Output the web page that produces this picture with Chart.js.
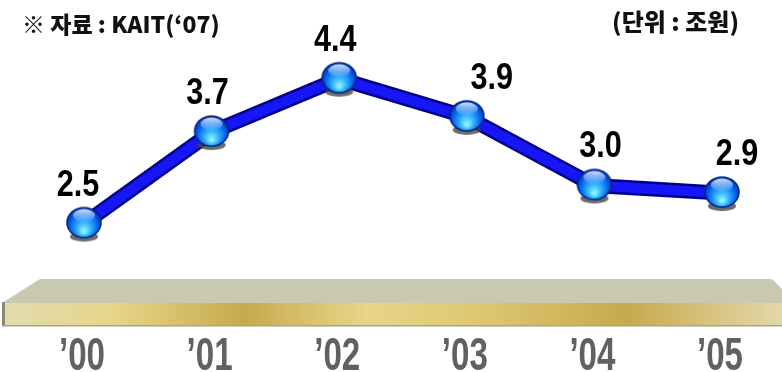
<!DOCTYPE html>
<html><head><meta charset="utf-8">
<script src="https://cdn.jsdelivr.net/npm/chart.js@4.4.0/dist/chart.umd.min.js"></script>
<style>html,body{margin:0;padding:0;background:#fff;overflow:hidden}#wrap{width:782px;height:372px;position:relative}</style>
</head><body><div id="wrap"><canvas id="c" width="782" height="372"></canvas></div>
<script>
// ---- data ----
const categories = ["’00", "’01", "’02", "’03", "’04", "’05"];
const values = [2.5, 3.7, 4.4, 3.9, 3.0, 2.9];
const valueLabels = ["2.5", "3.7", "4.4", "3.9", "3.0", "2.9"];
const sourceText = "※ 자료 : KAIT(‘07)";
const unitText = "(단위 : 조원)";

// ---- sphere marker ----
function makeSphere() {
  const c = document.createElement('canvas'); c.width = 44; c.height = 44;
  const g = c.getContext('2d');
  g.fillStyle = 'rgba(70,70,70,0.8)';
  g.beginPath(); g.ellipse(22, 35, 14, 5, 0, 0, Math.PI * 2); g.fill();
  const cx = 22, cy = 21;
  const rg = g.createRadialGradient(cx, cy + 9, 1, cx, cy + 2, 18);
  rg.addColorStop(0, '#8ff4ff'); rg.addColorStop(0.4, '#28a8ff');
  rg.addColorStop(0.8, '#0058e8'); rg.addColorStop(1, '#0030a8');
  g.fillStyle = rg; g.beginPath(); g.ellipse(cx, cy, 17, 15, 0, 0, Math.PI * 2); g.fill();
  g.strokeStyle = '#00267a'; g.lineWidth = 1.5; g.stroke();
  const hg = g.createLinearGradient(0, cy - 14, 0, cy - 1);
  hg.addColorStop(0, 'rgba(255,255,255,0.85)'); hg.addColorStop(1, 'rgba(255,255,255,0.05)');
  g.fillStyle = hg; g.beginPath(); g.ellipse(cx, cy - 7, 11, 6.5, 0, 0, Math.PI * 2); g.fill();
  return c;
}
const sphere = makeSphere();

function narrowText(ctx, text, x, y, sx) {
  ctx.save(); ctx.translate(x, y); ctx.scale(sx, 1); ctx.fillText(text, 0, 0); ctx.restore();
}

// ---- decoration plugins ----
const basePlugin = {
  id: 'base',
  beforeDatasetsDraw(chart) {
    const ctx = chart.ctx; const W = chart.width;
    ctx.save();
    ctx.fillStyle = '#c8c9b0';
    ctx.beginPath(); ctx.moveTo(2, 303); ctx.lineTo(40, 279); ctx.lineTo(772, 279); ctx.lineTo(796, 303); ctx.closePath(); ctx.fill();
    const gr = ctx.createLinearGradient(2, 0, W, 0);
    gr.addColorStop(0, '#e2dcae'); gr.addColorStop(0.14, '#e6d68a');
    gr.addColorStop(0.31, '#c8aa4e'); gr.addColorStop(0.47, '#e6d68a');
    gr.addColorStop(0.62, '#dcc670'); gr.addColorStop(0.8, '#c8aa4e');
    gr.addColorStop(1, '#e2d8a8');
    ctx.fillStyle = gr; ctx.fillRect(2, 303, W - 2, 22);
    ctx.fillStyle = '#8a8a74'; ctx.fillRect(2, 302, 3, 24);
    ctx.fillStyle = '#a4a48c'; ctx.fillRect(2, 325, W - 2, 1.5);
    ctx.restore();
  }
};
const textPlugin = {
  id: 'texts',
  afterDraw(chart) {
    const ctx = chart.ctx;
    ctx.save();
    ctx.fillStyle = '#111';
    ctx.textBaseline = 'middle';
    ctx.font = '900 23px "Noto Sans CJK KR"';
    ctx.textAlign = 'left'; ctx.fillText(sourceText, 22, 24);
    ctx.font = '900 24px "Noto Sans CJK KR"';
    ctx.textAlign = 'right'; ctx.fillText(unitText, 739, 22);
    ctx.restore();
  }
};
const tickPlugin = {
  id: 'tickLabels',
  afterDraw(chart) {
    const ctx = chart.ctx; const sc = chart.scales.x;
    ctx.save();
    ctx.fillStyle = '#616161';
    ctx.font = 'bold 46px "Liberation Sans", Arial';
    ctx.textAlign = 'center'; ctx.textBaseline = 'alphabetic';
    sc.ticks.forEach((t, i) => {
      narrowText(ctx, sc.getLabelForValue(t.value), sc.getPixelForTick(i) - 2, 370, 0.72);
    });
    ctx.restore();
  }
};
const labelPlugin = {
  id: 'valueLabels',
  afterDatasetsDraw(chart, args, opts) {
    const ctx = chart.ctx; const meta = chart.getDatasetMeta(1);
    ctx.save();
    ctx.fillStyle = '#000';
    ctx.font = 'bold 36px "Liberation Sans", Arial';
    ctx.textAlign = 'center'; ctx.textBaseline = 'middle';
    meta.data.forEach((p, i) => {
      narrowText(ctx, valueLabels[i], p.x + opts.dx[i], p.y + opts.dy, 0.85);
    });
    ctx.restore();
  }
};

new Chart(document.getElementById('c'), {
  type: 'line',
  data: {
    labels: categories,
    datasets: [
      { data: values, borderColor: '#00008a', borderWidth: 15, pointRadius: 0, tension: 0, clip: false, order: 2 },
      { data: values, borderColor: '#1616f6', borderWidth: 10, pointStyle: sphere, pointRadius: 17, tension: 0, clip: false, order: 1 }
    ]
  },
  options: {
    responsive: false, animation: false, events: [],
    layout: { padding: { top: 33, left: 84, right: 60, bottom: 0 } },
    plugins: { legend: { display: false }, tooltip: { enabled: false },
      valueLabels: { dx: [-6, -4, -4, 25, 6, 15], dy: -38 } },
    scales: {
      x: {
        offset: false,
        grid: { display: false, drawTicks: false }, border: { display: false },
        ticks: { display: false, autoSkip: false },
        afterFit(s) { s.height = 34; }
      },
      y: { display: false, min: 1, max: 5 }
    }
  },
  plugins: [basePlugin, labelPlugin, tickPlugin, textPlugin]
});
</script>
</body></html>
